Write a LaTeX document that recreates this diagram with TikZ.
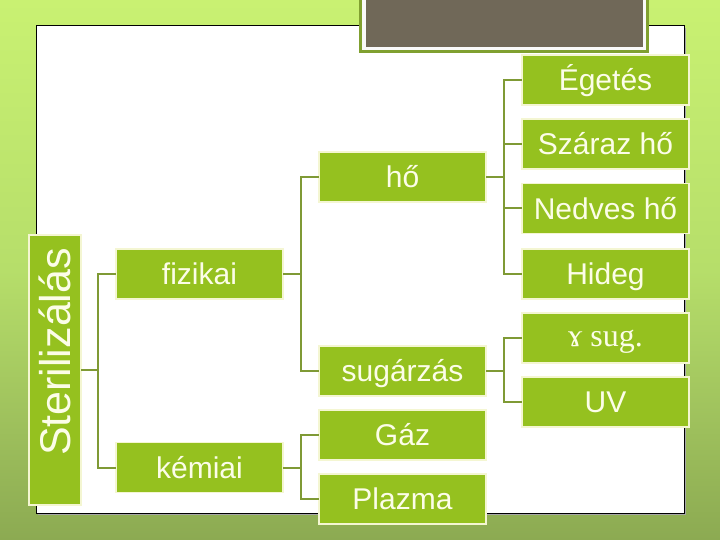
\documentclass[tikz,border=0pt]{standalone}
\usepackage{fontspec}
\setmainfont{Liberation Sans}
\newfontfamily\serifgamma{Liberation Serif}
\definecolor{boxgreen}{HTML}{95C11F}
\definecolor{boxline}{HTML}{F4F6D2}
\definecolor{txt}{HTML}{FCFDE8}
\definecolor{conn}{HTML}{7F9A35}
\definecolor{brown}{HTML}{706858}
\definecolor{brownedge}{HTML}{80A030}
\definecolor{bgtop}{HTML}{C9F172}
\definecolor{bgmid}{HTML}{B6DE6A}
\definecolor{bgbot}{HTML}{8CAA52}
\tikzset{
  box/.style={draw=boxline, line width=1.2pt, fill=boxgreen, text=txt,
    minimum width=167pt, minimum height=50pt, inner sep=0pt, outer sep=0pt,
    font=\fontsize{30}{30}\selectfont, text height=21.5pt, text depth=0pt},
  link/.style={draw=conn, line width=2pt},
}
\begin{document}
\begin{tikzpicture}[x=1pt,y=-1pt]
\useasboundingbox (0,0) rectangle (720,540);
% background
\shade[top color=bgtop, bottom color=bgbot, middle color=bgmid] (0,0) rectangle (720,540);
% panel
\fill[black!35] (38,28) rectangle (686,515);
\draw[black, line width=1pt, fill=white] (36,26) rectangle (684,513);
% title placeholder box
\fill[brownedge] (359,-5) rectangle (649,53);
\fill[white!95!gray] (362,-5) rectangle (646,50.5);
\fill[brown] (366,-5) rectangle (643,47.5);
% nodes
\node[box, rotate=90, minimum width=270pt, minimum height=52pt] (ster) at (55,370) {};
\node[rotate=90, text=txt, inner sep=0pt, font=\fontsize{43}{43}\selectfont,
      text height=30.8pt, text depth=0pt] (stertxt) at (55,352) {Sterilizálás};
\node[box] (fiz) at (199.5,274) {fizikai};
\node[box] (kem) at (199.5,467.5) {kémiai};
\node[box] (ho) at (402.5,177) {hő};
\node[box] (sug) at (402.5,371) {sugárzás};
\node[box] (gaz) at (402.5,435) {Gáz};
\node[box] (plaz) at (402.5,499) {Plazma};
\node[box] (eg) at (605.5,80) {Égetés};
\node[box] (sz) at (605.5,144) {Száraz hő};
\node[box] (ned) at (605.5,208.5) {Nedves hő};
\node[box] (hid) at (605.5,274) {Hideg};
\node[box, font=\serifgamma\fontsize{32}{32}\selectfont, text height=17pt] (gam) at (605.5,338) {ɤ sug.};
\node[box] (uv) at (605.5,402) {UV};
% connectors
\draw[link] (ster.south) -- ++(17,0) |- (fiz.west);
\draw[link] (ster.south) -- ++(17,0) |- (kem.west);
\foreach \p/\c in {fiz/ho, fiz/sug, kem/gaz, kem/plaz,
                   ho/eg, ho/sz, ho/ned, ho/hid, sug/gam, sug/uv}{
  \draw[link] (\p.east) -- ++(17.5,0) |- (\c.west);
}
\end{tikzpicture}
\end{document}
